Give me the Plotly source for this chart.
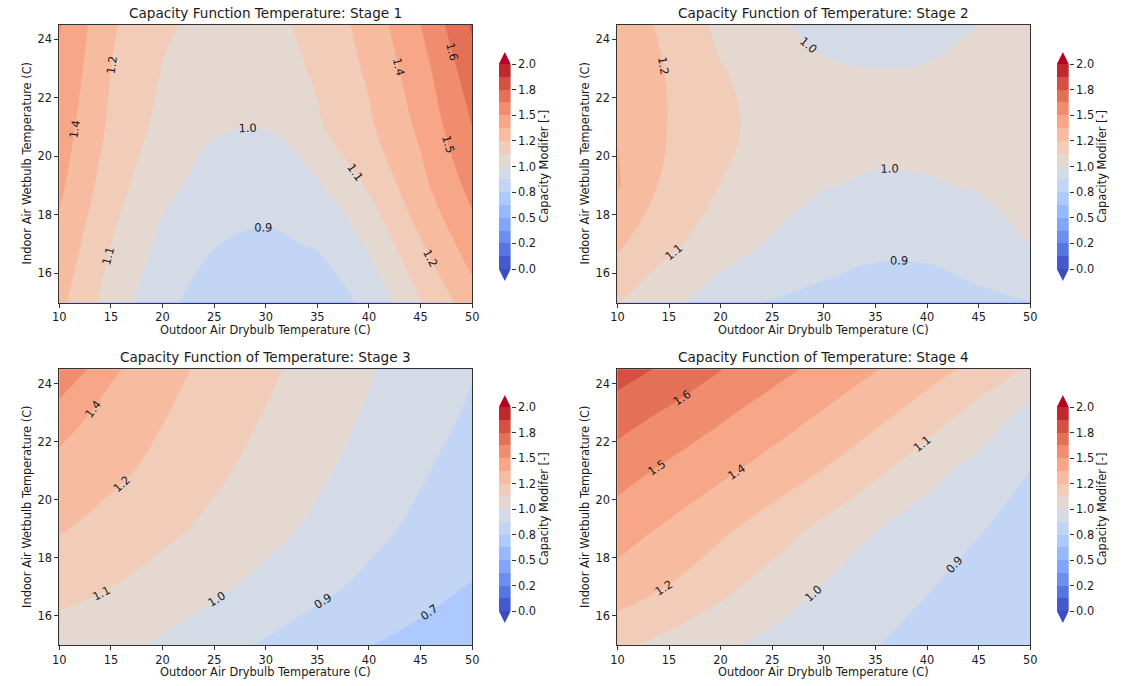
import plotly.graph_objects as go

# ---------------- data ----------------
drybulb_c = [10, 15, 20, 25, 30, 35, 40, 45, 50]          # outdoor air drybulb (C)
wetbulb_c = [15, 17, 19, 21, 23, 24.5]                     # indoor air wetbulb (C)

# capacity modifier, rows follow wetbulb_c, columns follow drybulb_c
stage1_cap = [
    [1.28, 1.071, 0.908, 0.810, 0.776, 0.805, 0.900, 1.120, 1.320],
    [1.34, 1.126, 0.970, 0.879, 0.852, 0.885, 1.015, 1.240, 1.440],
    [1.40, 1.179, 1.032, 0.949, 0.932, 0.985, 1.140, 1.340, 1.540],
    [1.44, 1.226, 1.087, 1.013, 1.004, 1.109, 1.230, 1.400, 1.625],
    [1.48, 1.251, 1.121, 1.056, 1.056, 1.143, 1.270, 1.450, 1.700],
    [1.51, 1.266, 1.143, 1.084, 1.091, 1.162, 1.299, 1.500, 1.767],
]
stage2_cap = [
    [1.13, 1.030, 0.937, 0.862, 0.843, 0.832, 0.835, 0.850, 0.872],
    [1.27, 1.149, 1.059, 0.985, 0.930, 0.895, 0.895, 0.935, 1.003],
    [1.385, 1.211, 1.123, 1.065, 1.006, 0.985, 0.990, 1.010, 1.030],
    [1.37, 1.246, 1.150, 1.085, 1.055, 1.040, 1.040, 1.045, 1.055],
    [1.33, 1.241, 1.132, 1.070, 1.010, 1.000, 1.005, 1.025, 1.050],
    [1.31, 1.225, 1.095, 1.012, 0.975, 0.960, 0.970, 1.000, 1.040],
]
stage3_cap = [
    [1.070, 1.030, 0.985, 0.922, 0.862, 0.808, 0.753, 0.710, 0.680],
    [1.164, 1.127, 1.075, 1.024, 0.966, 0.904, 0.847, 0.796, 0.745],
    [1.260, 1.208, 1.153, 1.097, 1.038, 0.976, 0.909, 0.847, 0.790],
    [1.328, 1.277, 1.217, 1.147, 1.083, 1.020, 0.955, 0.888, 0.820],
    [1.444, 1.329, 1.259, 1.190, 1.121, 1.055, 0.988, 0.924, 0.860],
    [1.620, 1.397, 1.292, 1.214, 1.148, 1.079, 1.010, 0.945, 0.881],
]
stage4_cap = [
    [1.150, 1.085, 1.021, 0.968, 0.920, 0.878, 0.845, 0.815, 0.787],
    [1.323, 1.245, 1.160, 1.070, 0.995, 0.932, 0.880, 0.845, 0.815],
    [1.430, 1.355, 1.275, 1.190, 1.095, 1.005, 0.935, 0.880, 0.845],
    [1.553, 1.474, 1.400, 1.326, 1.245, 1.150, 1.045, 0.955, 0.875],
    [1.687, 1.608, 1.524, 1.444, 1.367, 1.290, 1.195, 1.085, 0.965],
    [1.810, 1.722, 1.629, 1.543, 1.460, 1.380, 1.300, 1.213, 1.106],
]

stage_titles = [
    "Capacity Function Temperature: Stage 1",
    "Capacity Function of Temperature: Stage 2",
    "Capacity Function of Temperature: Stage 3",
    "Capacity Function of Temperature: Stage 4",
]
x_label = "Outdoor Air Drybulb Temperature (C)"
y_label = "Indoor Air Wetbulb Temperature (C)"
cbar_label = "Capacity Modifer [-]"

level_start, level_end, level_step = 0.0, 2.0, 0.125
cbar_tickvals = [0.0, 0.25, 0.5, 0.75, 1.0, 1.25, 1.5, 1.75, 2.0]

# ---------------- style ----------------
COOLWARM = [
    (59, 76, 192), (68, 90, 204), (77, 104, 215), (87, 117, 225), (98, 130, 234),
    (108, 142, 241), (119, 154, 247), (130, 165, 251), (141, 176, 254), (152, 185, 255),
    (163, 194, 255), (174, 201, 253), (184, 208, 249), (194, 213, 244), (204, 217, 238),
    (213, 219, 230), (221, 221, 221), (229, 216, 209), (236, 211, 197), (241, 204, 185),
    (245, 196, 173), (247, 187, 160), (247, 177, 148), (247, 166, 135), (244, 154, 123),
    (241, 141, 111), (236, 127, 99), (229, 112, 88), (222, 96, 77), (213, 80, 66),
    (203, 62, 56), (192, 40, 47), (180, 4, 38),
]

W, H = 1137, 686
FONT = "DejaVu Sans"
TXT = "#1a1a1a"
AX = "#333333"
NUDGE = 1e-9   # so that contour labels round like matplotlib's "%.1f" (1.25 -> 1.2)


def cw(t):
    t = min(max(t, 0.0), 1.0)
    f = t * (len(COOLWARM) - 1)
    i = min(int(f), len(COOLWARM) - 2)
    a = f - i
    c0, c1 = COOLWARM[i], COOLWARM[i + 1]
    return "rgb(%d,%d,%d)" % tuple(round(c0[j] + (c1[j] - c0[j]) * a) for j in range(3))


n_bands = round((level_end - level_start) / level_step)
band_lo = [level_start + k * level_step for k in range(n_bands)]
band_mid = [b + level_step / 2 for b in band_lo]
band_col = [cw((m - level_start) / (level_end - level_start)) for m in band_mid]

# contour colour map: plotly colours the band above level L with the scale at L + step/2,
# over the domain [start - step/2, end + step/2]
c_start, c_end = level_start - NUDGE, level_end - NUDGE
lo = c_start - level_step / 2
span = (c_end - c_start) + level_step


def cpos(v):
    return min(max((v - lo) / span, 0.0), 1.0)


white = "rgb(255,255,255)"
contour_scale = [[0.0, white], [cpos(c_start), white]]
for k in range(n_bands):
    contour_scale.append([cpos(c_start + k * level_step), band_col[k]])
    contour_scale.append([cpos(c_start + (k + 1) * level_step), band_col[k]])
contour_scale.append([cpos(c_end), white])
contour_scale.append([1.0, white])

# colour scale for the colour-bar strip (heatmap over [level_start, level_end])
rng = level_end - level_start
strip_scale = []
for k in range(n_bands):
    strip_scale.append([(band_lo[k] - level_start) / rng, band_col[k]])
    strip_scale.append([(band_lo[k] + level_step - level_start) / rng, band_col[k]])

# plot boxes in pixels: (left, right, top, bottom)
boxes = [(53, 471, 24.7, 302.6), (618, 1036, 24.7, 302.6),
         (53, 471, 369.3, 645.0), (618, 1036, 369.3, 645.0)]
# colour bars: (left px, px of top value, px of bottom value)
cbars = [(498, 64, 269), (1063, 64, 269), (498, 407, 611), (1063, 407, 611)]
CB_T = 12
TRI = 12

fig = go.Figure()
stages = [stage1_cap, stage2_cap, stage3_cap, stage4_cap]
annotations = []
shapes = []
tickfont = dict(family=FONT, size=11.4, color=TXT)

for i, (z, box, cb) in enumerate(zip(stages, boxes, cbars)):
    n = i + 1
    xa = "x" if n == 1 else f"x{n}"
    ya = "y" if n == 1 else f"y{n}"
    fig.add_trace(go.Contour(
        x=drybulb_c, y=wetbulb_c, z=z, xaxis=xa, yaxis=ya,
        autocontour=False,
        contours=dict(start=c_start, end=c_end, size=level_step,
                      coloring="fill", showlines=False, showlabels=True,
                      labelformat=".1f",
                      labelfont=dict(family=FONT, size=11.4, color=TXT)),
        line=dict(width=0, smoothing=1.15),
        colorscale=contour_scale, showscale=False,
        hoverinfo="skip",
    ))

    x0, x1, y0, y1 = box
    xk = "xaxis" if n == 1 else f"xaxis{n}"
    yk = "yaxis" if n == 1 else f"yaxis{n}"
    common = dict(showline=True, mirror=True, linecolor=AX, linewidth=1,
                  ticks="outside", ticklen=4, tickwidth=1, tickcolor=AX,
                  tickfont=tickfont, showgrid=False, zeroline=False)
    fig.layout[xk] = dict(domain=[x0 / W, x1 / W], anchor=ya, range=[10, 50],
                          dtick=5, tick0=10, **common)
    fig.layout[yk] = dict(domain=[1 - y1 / H, 1 - y0 / H], anchor=xa, range=[15, 24.5],
                          dtick=2, tick0=16, **common)

    cx = (x0 + x1) / 2
    annotations.append(dict(text=stage_titles[i], x=cx / W, y=1 - (y0 - 12) / H,
                            xref="paper", yref="paper", showarrow=False,
                            xanchor="center", yanchor="middle",
                            font=dict(family=FONT, size=13.6, color=TXT)))
    annotations.append(dict(text=x_label, x=cx / W, y=1 - (y1 + 27) / H,
                            xref="paper", yref="paper", showarrow=False,
                            xanchor="center", yanchor="middle",
                            font=dict(family=FONT, size=11.4, color=TXT)))
    annotations.append(dict(text=y_label, x=(x0 - 33) / W, y=1 - (y0 + y1) / 2 / H,
                            xref="paper", yref="paper", showarrow=False, textangle=-90,
                            xanchor="center", yanchor="middle",
                            font=dict(family=FONT, size=11.4, color=TXT)))

    # ---- colour bar drawn as a one-column heatmap of the level bands ----
    cb_left, cb_top, cb_bot = cb
    m = n + 4
    cxa, cya = f"x{m}", f"y{m}"
    t_units = TRI * rng / (cb_bot - cb_top)
    fig.add_trace(go.Heatmap(
        x=[0.5], y=band_mid, z=[[v] for v in band_mid],
        xaxis=cxa, yaxis=cya, colorscale=strip_scale,
        zmin=level_start, zmax=level_end, showscale=False, hoverinfo="skip",
    ))
    fig.layout[f"xaxis{m}"] = dict(domain=[cb_left / W, (cb_left + CB_T) / W], anchor=cya,
                                   range=[0, 1], visible=False, fixedrange=True)
    fig.layout[f"yaxis{m}"] = dict(
        domain=[1 - (cb_bot + TRI) / H, 1 - (cb_top - TRI) / H], anchor=cxa,
        range=[level_start - t_units, level_end + t_units], side="right",
        tickmode="array", tickvals=cbar_tickvals,
        ticktext=[f"{v:.1f}" for v in cbar_tickvals],
        ticks="outside", ticklen=4, tickwidth=1, tickcolor=AX, tickfont=tickfont,
        showline=False, showgrid=False, zeroline=False, fixedrange=True)
    # extension triangles (extend='both')
    over = "rgb(%d,%d,%d)" % COOLWARM[-1]
    under = "rgb(%d,%d,%d)" % COOLWARM[0]
    shapes.append(dict(type="path", xref=cxa, yref=cya, layer="above",
                       path=f"M 0 {level_end} L 1 {level_end} L 0.5 {level_end + t_units} Z",
                       fillcolor=over, line=dict(width=0)))
    shapes.append(dict(type="path", xref=cxa, yref=cya, layer="above",
                       path=f"M 0 {level_start} L 1 {level_start} L 0.5 {level_start - t_units} Z",
                       fillcolor=under, line=dict(width=0)))
    annotations.append(dict(text=cbar_label, x=(cb_left + 46) / W,
                            y=1 - (cb_top + cb_bot) / 2 / H,
                            xref="paper", yref="paper", showarrow=False, textangle=-90,
                            xanchor="center", yanchor="middle",
                            font=dict(family=FONT, size=11.4, color=TXT)))

fig.update_layout(
    width=W, height=H,
    margin=dict(l=0, r=0, t=0, b=0),
    paper_bgcolor="white", plot_bgcolor="white",
    font=dict(family=FONT, size=11.4, color=TXT),
    showlegend=False,
    annotations=annotations,
    shapes=shapes,
)

fig.write_html("out.html")
